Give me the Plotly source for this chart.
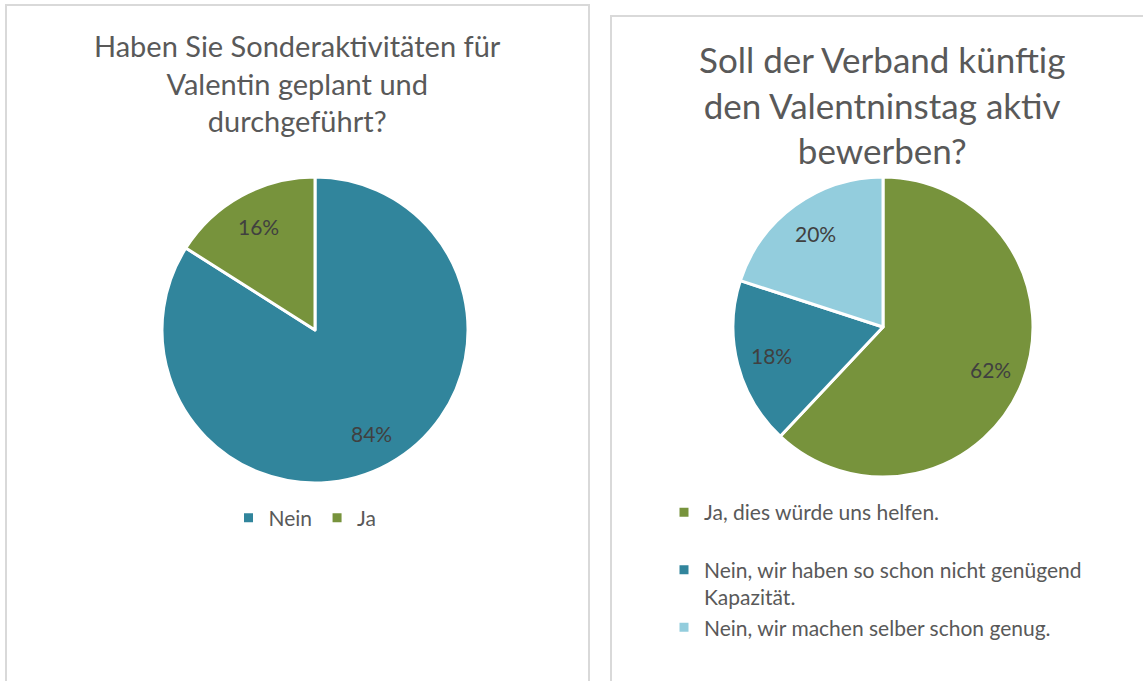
import math
import plotly.graph_objects as go

W, H = 1143, 681
OFF = 0  # body margin removed in the html output (see write_html below)

# --- data ---
left_title = "Haben Sie Sonderaktivitäten für<br>Valentin geplant und<br>durchgeführt?"
left_labels = ["Nein", "Ja"]
left_values = [84, 16]

right_title = "Soll der Verband künftig<br>den Valentninstag aktiv<br>bewerben?"
right_labels = ["Ja, dies würde uns helfen.<br> ",
                "Nein, wir haben so schon nicht genügend<br>Kapazität.",
                "Nein, wir machen selber schon genug."]
right_values = [62, 18, 20]

TEAL = "#31859C"
GREEN = "#77933C"
LIGHT = "#93CDDD"
FONT = "Lato"
TXT = "#595959"
LBL = "#404040"


def X(p):
    return (p - OFF) / W


def Y(p):
    return 1 - (p - OFF) / H


def pie_labels(values, cx, cy, r, k=0.77):
    """Percent labels placed at k*r along each slice's mid-angle (clockwise from 12 o'clock)."""
    total = sum(values)
    out = []
    cum = 0
    for v in values:
        th = 2 * math.pi * (cum + v / 2) / total
        cum += v
        x = cx + k * r * math.sin(th)
        y = cy - k * r * math.cos(th)
        out.append(dict(text=f"{round(100 * v / total)}%", x=X(x), y=Y(y),
                        xref="paper", yref="paper", showarrow=False,
                        xanchor="center", yanchor="middle",
                        font=dict(family=FONT, size=21, color=LBL)))
    return out


fig = go.Figure()

L = dict(cx=315, cy=330, r=153)
R = dict(cx=883, cy=327, r=150)

fig.add_trace(go.Pie(
    labels=left_labels, values=left_values,
    marker=dict(colors=[TEAL, GREEN], line=dict(color="white", width=3)),
    sort=False, direction="clockwise", rotation=0,
    textinfo="none",
    domain=dict(x=[X(L["cx"] - L["r"]), X(L["cx"] + L["r"])],
                y=[Y(L["cy"] + L["r"]), Y(L["cy"] - L["r"])]),
    legend="legend", hoverinfo="label+percent",
))

fig.add_trace(go.Pie(
    labels=right_labels, values=right_values,
    marker=dict(colors=[GREEN, TEAL, LIGHT], line=dict(color="white", width=3)),
    sort=False, direction="clockwise", rotation=0,
    textinfo="none",
    domain=dict(x=[X(R["cx"] - R["r"]), X(R["cx"] + R["r"])],
                y=[Y(R["cy"] + R["r"]), Y(R["cy"] - R["r"])]),
    legend="legend2", hoverinfo="label+percent",
))

annotations = [
    dict(text=left_title, x=X(297), y=Y(26), xref="paper", yref="paper",
         xanchor="center", yanchor="top", showarrow=False,
         font=dict(family=FONT, size=29, color=TXT)),
    dict(text=right_title, x=X(882), y=Y(36), xref="paper", yref="paper",
         xanchor="center", yanchor="top", showarrow=False,
         font=dict(family=FONT, size=35, color=TXT)),
]
annotations += pie_labels(left_values, **L)
annotations += pie_labels(right_values, **R)

shapes = [
    dict(type="rect", xref="paper", yref="paper",
         x0=X(6), x1=X(589), y0=-0.05, y1=Y(5),
         line=dict(color="#D9D9D9", width=2)),
    dict(type="rect", xref="paper", yref="paper",
         x0=X(611), x1=1.05, y0=-0.05, y1=Y(16),
         line=dict(color="#D9D9D9", width=2)),
]

fig.update_layout(
    width=W, height=H,
    margin=dict(l=0, r=0, t=0, b=0),
    paper_bgcolor="white", plot_bgcolor="white",
    annotations=annotations, shapes=shapes,
    legend=dict(orientation="h", x=X(305), xanchor="center",
                y=Y(518), yanchor="middle",
                font=dict(family=FONT, size=21, color=TXT),
                itemwidth=30, bgcolor="rgba(0,0,0,0)"),
    legend2=dict(orientation="v", x=X(664), xanchor="left",
                 y=Y(492), yanchor="top", valign="top",
                 font=dict(family=FONT, size=21, color=TXT),
                 itemwidth=30, bgcolor="rgba(0,0,0,0)"),
)

fig.write_html("out.html",
               config={"displayModeBar": False},
               post_script="document.body.style.margin='0';document.body.style.overflow='hidden';")
